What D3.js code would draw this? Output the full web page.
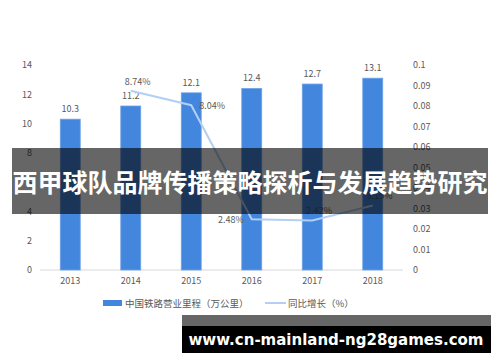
<!DOCTYPE html>
<html>
<head>
<meta charset="utf-8">
<script src="https://cdn.jsdelivr.net/npm/d3@7"></script>
<style>
  body { margin: 0; background: #fff; }
  text { font-family: "Noto Sans CJK SC", "Noto Sans", sans-serif; }
</style>
</head>
<body>
<script>
// data
var years = ["2013", "2014", "2015", "2016", "2017", "2018"];
var mileage = [10.3, 11.2, 12.1, 12.4, 12.7, 13.1];            // 万公里
var growthYears = ["2014", "2015", "2016", "2017", "2018"];
var growth = [0.0874, 0.0804, 0.0248, 0.0242, 0.0315];          // 同比增长
var leftTicks = [0, 2, 4, 6, 8, 10, 12, 14];
var rightTicks = [0, 0.01, 0.02, 0.03, 0.04, 0.05, 0.06, 0.07, 0.08, 0.09, 0.1];
var labelSide = ["above", "right", "left", "above", "above"];   // where each % label sits

var width = 500, height = 362;
var plotLeft = 40, plotRight = 403, plotTop = 65, plotBottom = 270;

var svg = d3.select("body").append("svg")
    .attr("width", width)
    .attr("height", height);

var x = d3.scaleBand()
    .domain(years)
    .range([plotLeft, plotRight])
    .paddingInner(0.67)
    .paddingOuter(0.335);

var y = d3.scaleLinear().domain([0, 14]).range([plotBottom, plotTop]);
var y2 = d3.scaleLinear().domain([0, 0.1]).range([plotBottom, plotTop]);

// left axis labels
svg.append("g")
    .attr("transform", "translate(32,0)")
    .call(d3.axisLeft(y).tickValues(leftTicks).tickSize(0).tickPadding(0))
    .call(function (g) { g.select(".domain").remove(); })
    .selectAll("text")
    .attr("fill", "#595959")
    .style("font-size", "9px");

// right axis labels
svg.append("g")
    .attr("transform", "translate(413,0)")
    .call(d3.axisRight(y2).tickValues(rightTicks).tickSize(0).tickPadding(0)
        .tickFormat(function (d) { return d3.format("~g")(+d.toFixed(2)); }))
    .call(function (g) { g.select(".domain").remove(); })
    .selectAll("text")
    .attr("fill", "#595959")
    .style("font-size", "9px");

// baseline
svg.append("line")
    .attr("x1", plotLeft).attr("x2", plotRight)
    .attr("y1", plotBottom).attr("y2", plotBottom)
    .attr("stroke", "#d9d9d9");

// year labels
svg.append("g")
    .attr("transform", "translate(0," + plotBottom + ")")
    .call(d3.axisBottom(x).tickSize(0).tickPadding(8))
    .call(function (g) { g.select(".domain").remove(); })
    .selectAll("text")
    .attr("fill", "#595959")
    .style("font-size", "9px");

// bars
svg.selectAll(".bar")
    .data(mileage)
    .enter().append("rect")
    .attr("class", "bar")
    .attr("x", function (d, i) { return x(years[i]); })
    .attr("y", function (d) { return y(d); })
    .attr("width", x.bandwidth())
    .attr("height", function (d) { return plotBottom - y(d); })
    .attr("fill", "#4286dd")
    .attr("stroke", "#6fa3e6")
    .attr("stroke-width", 0.8);

svg.selectAll(".barlabel")
    .data(mileage)
    .enter().append("text")
    .attr("class", "barlabel")
    .attr("x", function (d, i) { return x(years[i]) + x.bandwidth() / 2; })
    .attr("y", function (d) { return y(d) - 7; })
    .attr("text-anchor", "middle")
    .attr("fill", "#595959")
    .style("font-size", "9px")
    .text(function (d) { return d; });

// growth line
var line = d3.line()
    .x(function (d, i) { return x(growthYears[i]) + x.bandwidth() / 2; })
    .y(function (d) { return y2(d); });

svg.append("path")
    .datum(growth)
    .attr("d", line)
    .attr("fill", "none")
    .attr("stroke", "#b3cff3")
    .attr("stroke-width", 2);

svg.selectAll(".linelabel")
    .data(growth)
    .enter().append("text")
    .attr("class", "linelabel")
    .attr("x", function (d, i) {
        var cx = x(growthYears[i]) + x.bandwidth() / 2;
        if (labelSide[i] == "right") return cx + 8;
        if (labelSide[i] == "left") return cx - 8;
        return cx + 7;
    })
    .attr("y", function (d, i) {
        var cy = y2(d);
        if (labelSide[i] == "above") return cy - 6;
        return cy + 4;
    })
    .attr("text-anchor", function (d, i) {
        if (labelSide[i] == "right") return "start";
        if (labelSide[i] == "left") return "end";
        return "middle";
    })
    .attr("fill", "#595959")
    .style("font-size", "9px")
    .text(function (d) { return d3.format(".2%")(d); });

// legend
var legend = svg.append("g").attr("transform", "translate(0,303)");
legend.append("rect")
    .attr("x", 103).attr("y", -3)
    .attr("width", 19).attr("height", 6)
    .attr("fill", "#4286dd");
legend.append("text")
    .attr("x", 125).attr("y", 3.5)
    .attr("fill", "#595959")
    .style("font-size", "9.5px")
    .text("中国铁路营业里程（万公里）");
legend.append("line")
    .attr("x1", 265).attr("x2", 286)
    .attr("y1", 0).attr("y2", 0)
    .attr("stroke", "#b3cff3")
    .attr("stroke-width", 2);
legend.append("text")
    .attr("x", 288).attr("y", 3.5)
    .attr("fill", "#595959")
    .style("font-size", "9.5px")
    .text("同比增长（%）");

// title band across the middle
svg.append("rect")
    .attr("x", 12).attr("y", 148)
    .attr("width", 476).attr("height", 66)
    .attr("fill", "#000")
    .attr("fill-opacity", 0.6);
svg.append("text")
    .attr("x", 250).attr("y", 192)
    .attr("text-anchor", "middle")
    .attr("fill", "#fff")
    .style("font-size", "25px")
    .style("font-weight", "bold")
    .text("西甲球队品牌传播策略探析与发展趋势研究");

// site tag at the bottom
svg.append("rect")
    .attr("x", 182).attr("y", 315)
    .attr("width", 309).attr("height", 11)
    .attr("fill", "#000")
    .attr("fill-opacity", 0.6);
svg.append("rect")
    .attr("x", 182).attr("y", 326)
    .attr("width", 309).attr("height", 27)
    .attr("fill", "#000");
svg.append("text")
    .attr("x", 336).attr("y", 345)
    .attr("text-anchor", "middle")
    .attr("fill", "#fff")
    .style("font-family", "'DejaVu Sans', sans-serif")
    .style("font-size", "15px")
    .style("font-weight", "bold")
    .text("www.cn-mainland-ng28games.com");
</script>
</body>
</html>
